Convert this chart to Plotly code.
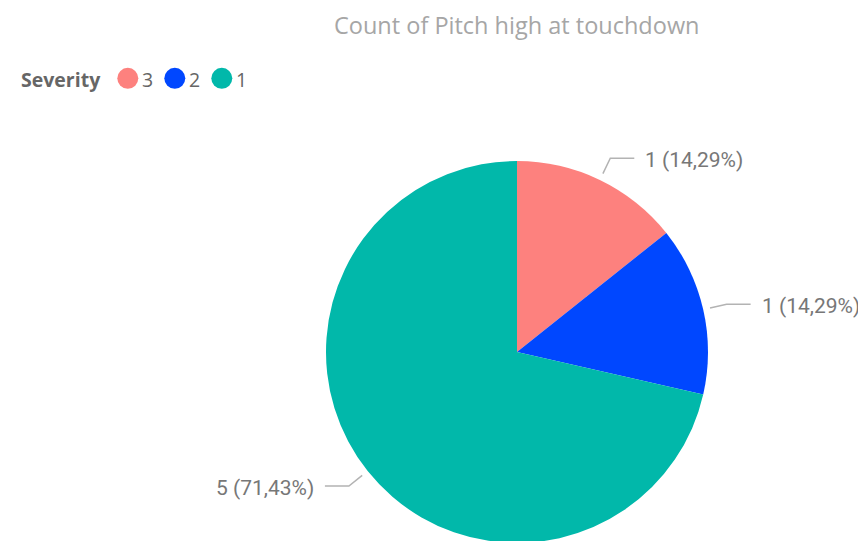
import math
import plotly.graph_objects as go

title_text = "Count of Pitch high at touchdown"
legend_title = "Severity"
categories = ["3", "2", "1"]
counts = [1, 1, 5]
colors = ["#FD817E", "#0047FF", "#01B8AA"]

# the page body has an 8px margin, so figure coordinates = page coordinates - 8
W, H = 858, 541
CX, CY, R = 509, 344, 191

fig = go.Figure()
fig.add_trace(go.Pie(
    labels=categories, values=counts, sort=False, direction="clockwise", rotation=0,
    marker=dict(colors=colors, line=dict(width=0)), textinfo="none",
    hoverinfo="label+value+percent", showlegend=False,
    domain=dict(x=[(CX - R) / W, (CX + R) / W], y=[1 - (CY + R) / H, 1 - (CY - R) / H]),
))

total = sum(counts)
cum = 0
lx, ly = [], []
annotations = []
for cat, v in zip(categories, counts):
    mid = (cum + v / 2) / total * 2 * math.pi
    cum += v
    dx, dy = math.sin(mid), -math.cos(mid)
    p1 = (CX + (R + 7) * dx, CY + (R + 7) * dy)
    p2 = (CX + (R + 24) * dx, CY + (R + 24) * dy)
    side = 1 if dx >= 0 else -1
    p3 = (p2[0] + side * 24, p2[1])
    lx += [p1[0], p2[0], p3[0], None]
    ly += [p1[1], p2[1], p3[1], None]
    pct = v / total * 100
    label = f"{v} ({pct:.2f}%)".replace(".", ",")
    annotations.append(dict(
        x=p3[0] + side * 9, y=p3[1] + 1.5, xref="x", yref="y", text=label, showarrow=False,
        xanchor="left" if side > 0 else "right", yanchor="middle",
        font=dict(family="Roboto", size=21, color="#777777"),
    ))

fig.add_trace(go.Scatter(x=lx, y=ly, mode="lines", line=dict(color="#B3B3B3", width=1.5),
                         hoverinfo="skip", showlegend=False))

# legend row (drawn as markers + text)
LEG_Y = 70.3
LEG_X0 = 119.8
LEG_STEP = 47
leg_x = [LEG_X0 + i * LEG_STEP for i in range(len(categories))]
fig.add_trace(go.Scatter(x=leg_x, y=[LEG_Y] * len(categories), mode="markers",
                         marker=dict(size=21, color=colors, symbol="circle", line=dict(width=0)),
                         hoverinfo="skip", showlegend=False))
annotations.append(dict(x=10.5, y=LEG_Y + 1, xref="x", yref="y", text="<b>" + legend_title + "</b>",
                        showarrow=False, xanchor="left", yanchor="middle",
                        font=dict(family="Open Sans", size=19.5, color="#666666")))
for x, cat in zip(leg_x, categories):
    annotations.append(dict(x=x + 12.5, y=LEG_Y + 1, xref="x", yref="y", text=cat, showarrow=False,
                            xanchor="left", yanchor="middle",
                            font=dict(family="Open Sans", size=19.5, color="#666666")))

# chart title
annotations.append(dict(x=CX / W, y=1, xref="paper", yref="paper", text=title_text, showarrow=False,
                        xanchor="center", yanchor="top", borderpad=0,
                        font=dict(family="Open Sans", size=23.5, color="#A6A6A6")))

fig.update_layout(
    width=W, height=H, margin=dict(l=0, r=0, t=0, b=0),
    paper_bgcolor="white", plot_bgcolor="white",
    xaxis=dict(range=[0, W], visible=False, fixedrange=True),
    yaxis=dict(range=[H, 0], visible=False, fixedrange=True),
    annotations=annotations,
    showlegend=False,
)

fig.write_html("out.html")
